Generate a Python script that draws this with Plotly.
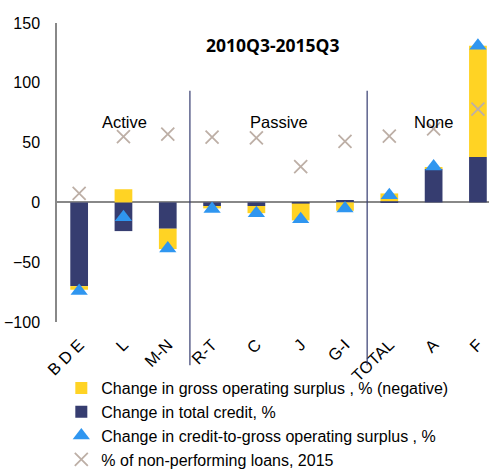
import plotly.graph_objects as go

categories = ["B D E", "L", "M-N", "R-T", "C", "J", "G-I", "TOTAL", "A", "F"]
credit_change = [-70, -24, -22, -3, -3, -1, 2, 1, 28, 38]
gos_change_neg = [-3, 11, -17, -2, -6, -14, -7, 6.5, 1.5, 93]
credit_to_gos = [-74, -12.5, -38.5, -5.5, -9, -14, -5, 6, 30, 131]
npl_2015 = [7.5, 55, 57, 54.5, 54, 30, 51, 55.5, 61.5, 78]
group_labels = ["Active", "Passive", "None"]
group_label_pos = [1.03, 4.5, 8.0]
group_separators = [2.5, 6.5]

YELLOW = "#FFD324"
NAVY = "#363D70"
BLUE = "#2F96F0"
GRAYX = "#BDAFA6"

fig = go.Figure()
# credit stacked first (closest to zero), GOS stacked on top of it
fig.add_trace(go.Bar(x=categories, y=credit_change, name="Change in total credit, %", legendrank=2,
                     marker=dict(color=NAVY, line=dict(width=0))))
fig.add_trace(go.Bar(x=categories, y=gos_change_neg, name="Change in gross operating surplus , % (negative)",
                     legendrank=1, marker=dict(color=YELLOW, line=dict(width=0))))
fig.add_trace(go.Scatter(x=categories, y=credit_to_gos, mode="markers", legendrank=3,
                         name="Change in credit-to-gross operating surplus , %",
                         marker=dict(symbol="triangle-up", size=15, color=BLUE), cliponaxis=False))
fig.add_trace(go.Scatter(x=categories, y=npl_2015, mode="markers", name="% of non-performing loans, 2015",
                         legendrank=4,
                         marker=dict(symbol="x-thin", size=13, color=GRAYX, line=dict(width=1.8, color=GRAYX)),
                         cliponaxis=False))

for xs in group_separators:
    fig.add_shape(type="line", xref="x", yref="paper", x0=xs, x1=xs, y0=-0.145, y1=0.773,
                  line=dict(color=NAVY, width=1.2), layer="above")

for lab, pos in zip(group_labels, group_label_pos):
    fig.add_annotation(x=pos, y=67, xref="x", yref="y", text=lab, showarrow=False,
                       font=dict(size=16.5, color="#000000"), yanchor="middle")

fig.add_annotation(x=0.5, xref="paper", y=132, yref="y", text="<b>2010Q3-2015Q3</b>", showarrow=False,
                   font=dict(size=17.5, color="#000000", family="Open Sans, Arial, sans-serif"))

fig.update_layout(
    width=489, height=469,
    barmode="relative", bargap=0.6,
    plot_bgcolor="white", paper_bgcolor="white",
    margin=dict(l=57, r=0, t=23, b=147, autoexpand=False),
    font=dict(family="Liberation Sans, Arial, sans-serif", size=15, color="#000000"),
    showlegend=True,
    legend=dict(x=0.01, y=0.209, yref="container", xanchor="left", yanchor="top", orientation="v",
                font=dict(size=16), itemwidth=30, tracegroupgap=0,
                traceorder="normal", bgcolor="rgba(0,0,0,0)"),
    xaxis=dict(range=[-0.5, 9.25], tickangle=-45, showgrid=False, showline=False, ticks="",
               tickfont=dict(size=16.5), automargin=False, ticklabelstandoff=9),
    yaxis=dict(range=[-100, 150], tickvals=[-100, -50, 0, 50, 100, 150], showgrid=False,
               showline=True, linecolor="#888888", linewidth=1.5, zeroline=True, zerolinecolor="#888888",
               zerolinewidth=1.5, ticks="", tickfont=dict(size=16), ticklabelstandoff=12, automargin=False),
)
fig.write_html("out.html", config={"displayModeBar": False},
               post_script="document.body.style.margin='0';document.body.style.overflow='hidden';")
